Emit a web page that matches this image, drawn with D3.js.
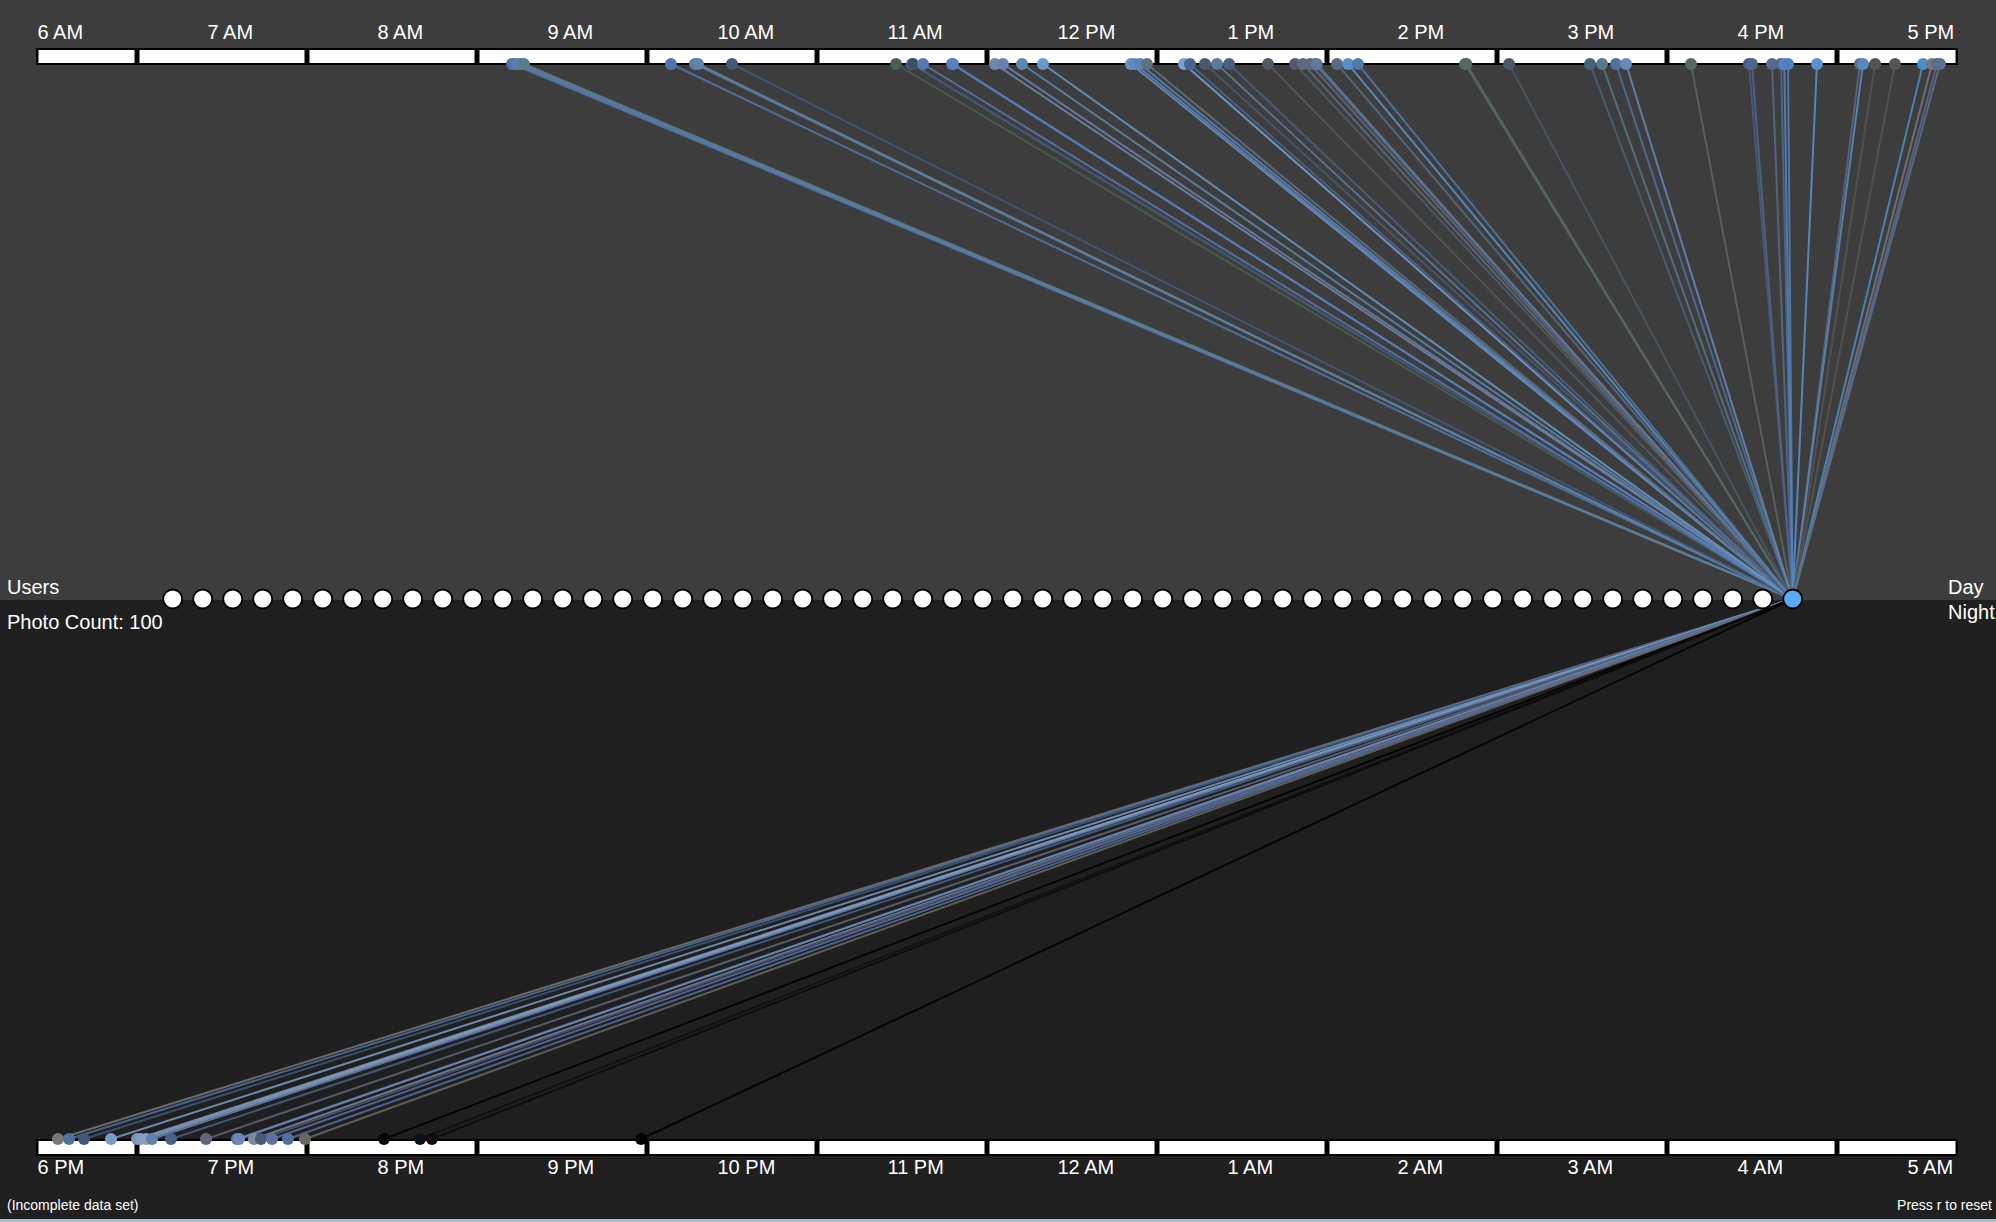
<!DOCTYPE html>
<html>
<head>
<meta charset="utf-8">
<script src="https://cdn.jsdelivr.net/npm/d3@7"></script>
<style>
  html, body { margin: 0; padding: 0; background: #1f1f1f; overflow: hidden; }
  svg { display: block; font-family: "Liberation Sans", Arial, Helvetica, sans-serif; }
</style>
</head>
<body>
<script>
// ---------------- data ----------------
const dayHours = [6, 7, 8, 9, 10, 11, 12, 13, 14, 15, 16, 17];
const dayLabels = ["6 AM", "7 AM", "8 AM", "9 AM", "10 AM", "11 AM", "12 PM", "1 PM", "2 PM", "3 PM", "4 PM", "5 PM"];
const nightHours = [18, 19, 20, 21, 22, 23, 24, 25, 26, 27, 28, 29];
const nightLabels = ["6 PM", "7 PM", "8 PM", "9 PM", "10 PM", "11 PM", "12 AM", "1 AM", "2 AM", "3 AM", "4 AM", "5 AM"];

const userCount = 55;
const selectedUser = 54;
const photoCount = 100;

// photo times (decimal hours) and their colours
const dayPhotoTimes = [
  9.206, 9.22, 9.241, 9.26, 9.276,
  10.141, 10.282, 10.300, 10.500,
  11.465, 11.559, 11.565, 11.624, 11.794, 11.80,
  12.047, 12.094, 12.206, 12.329, 12.847, 12.87, 12.900, 12.941,
  13.159, 13.194, 13.282, 13.353, 13.424, 13.653, 13.812, 13.859, 13.900, 13.929, 13.94,
  14.059, 14.124, 14.182, 14.812, 14.82,
  15.071, 15.547, 15.618, 15.700, 15.759,
  16.141, 16.482, 16.500, 16.618, 16.671, 16.69, 16.712, 16.882,
  17.135, 17.153, 17.224, 17.341, 17.506, 17.559, 17.588, 17.606
];
const dayPhotoColors = [
  "#4f6e9a", "#5475a8", "#5b7fb5", "#5a7ca0", "#5a7c8c",
  "#5275a8", "#5a7c9c", "#5e84a8", "#415a7a",
  "#4a5f50", "#5878a0", "#3c5068", "#5a78b0", "#5577b0", "#5b80bd",
  "#7089a8", "#6b7fb0", "#5c88b0", "#6a9ac8", "#6d90c0", "#6188c0", "#5a85b8", "#607080",
  "#7aa0d0", "#4a6590", "#4a5870", "#5a7aa0", "#4a6080", "#505860", "#505a68", "#606a78", "#5a6a80", "#5a6f90", "#62789a",
  "#5a6a80", "#5a90c8", "#5078a8", "#5a6a6a", "#566862",
  "#4a5868", "#4a6078", "#55788a", "#5070a0", "#6a88b8",
  "#5a6660", "#4a5a80", "#4f6590", "#5a6a8a", "#4a6a90", "#5a84c0", "#5080c0", "#5a90d0",
  "#5a6a80", "#5a88c0", "#505558", "#555555", "#4a90c8", "#777777", "#5a6a88", "#5a7090"
];

const nightPhotoTimes = [
  18.535, 18.600, 18.688, 18.847,
  19.000, 19.02, 19.053, 19.088, 19.200, 19.406, 19.588, 19.60,
  19.688, 19.729, 19.794, 19.888, 19.988,
  20.453, 20.665, 20.735, 21.965
];
const nightPhotoColors = [
  "#777777", "#5070a0", "#405878", "#7a9cc8",
  "#8090a8", "#7f9cc4", "#8aa0b8", "#6080b0", "#4a6088", "#606878", "#6078a0", "#6d88b8",
  "#7888a0", "#4a5878", "#6070a0", "#5070a0", "#6a6860",
  "#000000", "#0a1018", "#100808", "#000000"
];

// ---------------- layout ----------------
const W = 1996, H = 1222;
const midY = 600;
const barLeft = 36, barRight = 1958;

const svg = d3.select("body").append("svg").attr("width", W).attr("height", H);

// backgrounds
svg.append("rect").attr("x", 0).attr("y", 0).attr("width", W).attr("height", midY).attr("fill", "#3d3d3d");
svg.append("rect").attr("x", 0).attr("y", midY).attr("width", W).attr("height", H - midY).attr("fill", "#1f1f1f");
svg.append("rect").attr("x", 0).attr("y", H - 3).attr("width", W).attr("height", 3).attr("fill", "#a3bfd6");

// time scales (one hour = one segment)
const dayX = d3.scaleLinear().domain([6, 18]).range([-33, 2007]);
const nightX = d3.scaleLinear().domain([18, 30]).range([-33, 2007]);

const userX = d3.scalePoint().domain(d3.range(userCount)).range([172.7, 1792.7]);
const userY = 599;
const hubX = userX(selectedUser);

function drawBar(hours, labels, scale, barY, labelY) {
  const g = svg.append("g");
  g.append("rect").attr("x", barLeft).attr("y", barY).attr("width", barRight - barLeft).attr("height", 17).attr("fill", "#000");
  g.selectAll("rect.seg").data(hours).enter().append("rect")
    .attr("class", "seg")
    .attr("x", h => Math.max(scale(h), barLeft) + 2.5)
    .attr("y", barY + 2)
    .attr("width", h => Math.min(scale(h + 1), barRight) - Math.max(scale(h), barLeft) - 5)
    .attr("height", 13)
    .attr("fill", "#fff");
  g.selectAll("text").data(hours).enter().append("text")
    .attr("x", (h) => scale(h) + 70.5)
    .attr("y", labelY)
    .attr("text-anchor", "start")
    .attr("fill", "#fff")
    .attr("font-size", 20)
    .text((h, i) => labels[i]);
}

drawBar(dayHours, dayLabels, dayX, 48, 39);
drawBar(nightHours, nightLabels, nightX, 1139, 1174);

const dayY = 64, nightY = 1139;

// links
const linkG = svg.append("g");
linkG.selectAll("line.day").data(dayPhotoTimes).enter().append("line")
  .attr("x1", t => dayX(t)).attr("y1", dayY)
  .attr("x2", hubX).attr("y2", userY)
  .attr("stroke", (t, i) => dayPhotoColors[i])
  .attr("stroke-width", 2).attr("stroke-opacity", 0.85);
linkG.selectAll("line.night").data(nightPhotoTimes).enter().append("line")
  .attr("x1", t => nightX(t)).attr("y1", nightY)
  .attr("x2", hubX).attr("y2", userY)
  .attr("stroke", (t, i) => nightPhotoColors[i])
  .attr("stroke-width", 2).attr("stroke-opacity", 0.85);

// photo dots
svg.append("g").selectAll("circle").data(dayPhotoTimes).enter().append("circle")
  .attr("cx", t => dayX(t)).attr("cy", dayY).attr("r", 6)
  .attr("fill", (t, i) => dayPhotoColors[i]);
svg.append("g").selectAll("circle").data(nightPhotoTimes).enter().append("circle")
  .attr("cx", t => nightX(t)).attr("cy", nightY).attr("r", 6)
  .attr("fill", (t, i) => nightPhotoColors[i]);

// users
svg.append("g").selectAll("circle").data(d3.range(userCount)).enter().append("circle")
  .attr("cx", d => userX(d)).attr("cy", userY).attr("r", 9.5)
  .attr("fill", d => d === selectedUser ? "#5aabf5" : "#ffffff")
  .attr("stroke", "#000").attr("stroke-width", 1.8);

// texts
const txt = (x, y, s, size, anchor) => svg.append("text").attr("x", x).attr("y", y)
  .attr("fill", "#fff").attr("font-size", size).attr("text-anchor", anchor || "start").text(s);
txt(7, 594, "Users", 20);
txt(7, 629, "Photo Count: " + photoCount, 20);
txt(1948, 594, "Day", 20);
txt(1948, 619, "Night", 20);
txt(7, 1210, "(Incomplete data set)", 14);
txt(1992, 1210, "Press r to reset", 14, "end");
</script>
</body>
</html>
